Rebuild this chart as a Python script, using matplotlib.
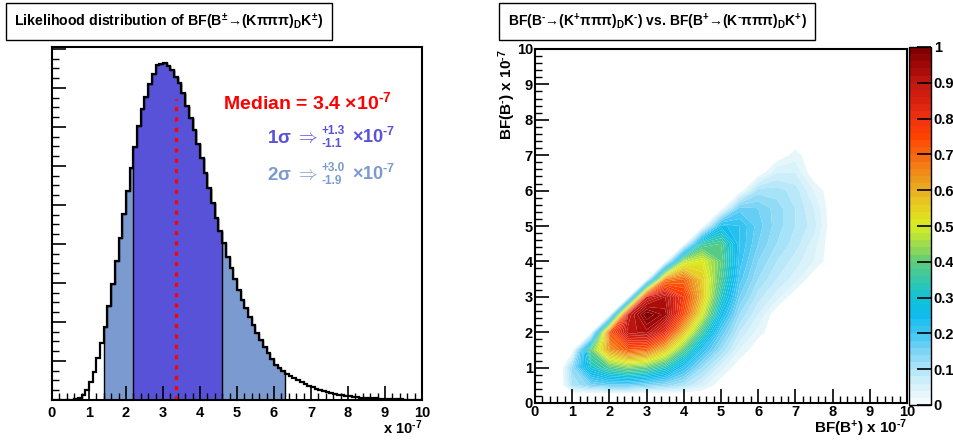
import matplotlib
matplotlib.use('Agg')
import matplotlib.pyplot as plt
import matplotlib.colors as mcolors
from matplotlib.ticker import MultipleLocator, FormatStrFormatter, NullFormatter
import numpy as np

plt.rcParams['font.family'] = ['Liberation Sans', 'DejaVu Sans']
plt.rcParams['font.weight'] = 'bold'
plt.rcParams['axes.labelweight'] = 'bold'
plt.rcParams['mathtext.fontset'] = 'custom'
plt.rcParams['mathtext.rm'] = 'Liberation Sans:bold'
plt.rcParams['mathtext.bf'] = 'Liberation Sans:bold'
plt.rcParams['mathtext.it'] = 'Liberation Sans:bold'
plt.rcParams['mathtext.sf'] = 'Liberation Sans'

# ==========================================
# data
# ==========================================
# 1D likelihood, 100 bins of 0.1 between 0 and 10 (x 10^-7), arbitrary units
bin_edges = np.linspace(0.0, 10.0, 101)
likelihood = [0, 0, 0, 0, 1, 1, 3, 5, 13, 26,
              45, 71, 107, 145, 188, 242, 297, 357, 415, 476,
              536, 596, 649, 703, 746, 778, 809, 836, 858, 862,
              863, 856, 846, 827, 812, 786, 754, 722, 692, 656,
              620, 581, 543, 504, 466, 432, 402, 367, 338, 309,
              282, 256, 235, 212, 191, 171, 154, 137, 120, 104,
              90, 81, 74, 67, 62, 56, 51, 46, 41, 37,
              33, 29, 26, 23, 21, 18, 15, 14, 12, 10,
              9, 8, 7, 6, 5, 5, 4, 4, 3, 3,
              3, 2, 2, 2, 2, 1, 1, 1, 1, 1]
one_sigma = (2.2, 4.6)
two_sigma = (1.4, 6.3)
median_x = 3.35
median_top = 772

# 2D likelihood (normalised to max 1), rows = BF(B-), columns = BF(B+)
bf_plus = [0.7, 1.0, 1.5, 2.0, 2.5, 3.0, 3.5, 4.0, 4.5, 5.0, 5.5, 6.0, 6.5, 7.0, 7.5, 8.0]
bf_minus = [0.25, 0.5, 1.0, 1.5, 2.0, 2.5, 3.0, 3.5, 4.0, 4.5, 5.0, 5.5, 6.0, 6.5, 7.0, 7.5]
lik2d = [
    [0, 0, 0, 0, 0, 0, 0, 0, 0, 0, 0, 0, 0, 0, 0, 0],
    [0, 0.10, 0.15, 0.17, 0.17, 0.15, 0.13, 0.10, 0.05, 0, 0, 0, 0, 0, 0, 0],
    [0, 0.13, 0.30, 0.38, 0.42, 0.40, 0.33, 0.22, 0.12, 0.05, 0, 0, 0, 0, 0, 0],
    [0, 0, 0.40, 0.63, 0.72, 0.70, 0.57, 0.39, 0.22, 0.12, 0.04, 0, 0, 0, 0, 0],
    [0, 0, 0, 0.72, 0.91, 0.93, 0.82, 0.58, 0.36, 0.18, 0.08, 0.03, 0, 0, 0, 0],
    [0, 0, 0, 0, 0.88, 1.00, 0.95, 0.74, 0.50, 0.26, 0.12, 0.06, 0, 0, 0, 0],
    [0, 0, 0, 0, 0, 0.86, 0.92, 0.78, 0.57, 0.33, 0.16, 0.09, 0.05, 0, 0, 0],
    [0, 0, 0, 0, 0, 0, 0.66, 0.70, 0.56, 0.38, 0.19, 0.12, 0.08, 0.05, 0, 0],
    [0, 0, 0, 0, 0, 0, 0, 0.47, 0.51, 0.40, 0.21, 0.14, 0.10, 0.07, 0.04, 0],
    [0, 0, 0, 0, 0, 0, 0, 0, 0.35, 0.38, 0.22, 0.16, 0.12, 0.09, 0.05, 0],
    [0, 0, 0, 0, 0, 0, 0, 0, 0, 0.25, 0.22, 0.17, 0.13, 0.10, 0.07, 0],
    [0, 0, 0, 0, 0, 0, 0, 0, 0, 0, 0.17, 0.16, 0.13, 0.10, 0.06, 0],
    [0, 0, 0, 0, 0, 0, 0, 0, 0, 0, 0, 0.11, 0.11, 0.09, 0.04, 0],
    [0, 0, 0, 0, 0, 0, 0, 0, 0, 0, 0, 0, 0.06, 0.06, 0, 0],
    [0, 0, 0, 0, 0, 0, 0, 0, 0, 0, 0, 0, 0, 0.03, 0, 0],
    [0, 0, 0, 0, 0, 0, 0, 0, 0, 0, 0, 0, 0, 0, 0, 0],
]

# ==========================================
# style
# ==========================================
DARK = '#5852d8'
LIGHT = '#7b9bd0'
TICK_FS = 10.5

root_stops = [(0.00, '#f8fcfe'), (0.05, '#d8f2fb'), (0.10, '#b0e6f9'), (0.15, '#7cd4f5'),
              (0.20, '#3cc4f2'), (0.25, '#10bcee'), (0.30, '#10c2d6'), (0.35, '#38c8a8'),
              (0.40, '#60cc78'), (0.45, '#a2dc4c'), (0.50, '#d8ee22'), (0.55, '#e6d020'),
              (0.60, '#e8b020'), (0.65, '#f08c18'), (0.70, '#f86410'), (0.75, '#ff4400'),
              (0.80, '#f03210'), (0.85, '#d82010'), (0.90, '#c01810'), (0.95, '#a00808'),
              (1.00, '#7a0000')]
root_cmap = mcolors.LinearSegmentedColormap.from_list('root', root_stops)
cb_levels = np.linspace(0, 1, 51)
band_colors = root_cmap((cb_levels[:-1] + cb_levels[1:]) / 2)


def style_axis(ax, pad=4):
    for sp in ax.spines.values():
        sp.set_linewidth(1.5)
    ax.tick_params(which='major', direction='in', length=10, width=1.2,
                   labelsize=TICK_FS, pad=pad)
    ax.tick_params(which='minor', direction='in', length=5, width=1.0)


def bold_ticks(ax):
    plt.setp(ax.get_xticklabels() + ax.get_yticklabels(), fontweight='bold')


fig = plt.figure(figsize=(9.54, 4.41), dpi=100)

# ------------------------------------------
# left: 1D likelihood
# ------------------------------------------
ax1 = fig.add_axes([52 / 954, 41 / 441, 370 / 954, 353 / 441])
edges = np.asarray(bin_edges)
vals = np.asarray(likelihood, dtype=float)

i0, i1 = int(round(two_sigma[0] * 10)), int(round(two_sigma[1] * 10))
ax1.stairs(vals[i0:i1], edges[i0:i1 + 1], fill=True, facecolor=LIGHT,
           edgecolor='black', linewidth=1.0)
j0, j1 = int(round(one_sigma[0] * 10)), int(round(one_sigma[1] * 10))
ax1.stairs(vals[j0:j1], edges[j0:j1 + 1], fill=True, facecolor=DARK,
           edgecolor='black', linewidth=1.0)
ax1.stairs(vals, edges, color='black', linewidth=1.6)
ax1.plot([median_x, median_x], [0, median_top], color='red', lw=2.4,
         dashes=(1.2, 1.9), solid_capstyle='butt')

ax1.set_xlim(0, 10)
ax1.set_ylim(0, 905)
ax1.xaxis.set_major_locator(MultipleLocator(1))
ax1.xaxis.set_minor_locator(MultipleLocator(0.2))
ax1.yaxis.set_major_locator(MultipleLocator(100))
ax1.yaxis.set_minor_locator(MultipleLocator(25))
ax1.yaxis.set_major_formatter(NullFormatter())
style_axis(ax1, pad=4)
bold_ticks(ax1)
ax1.set_xlabel(r"x 10$^{\text{-7}}$", loc='right', fontsize=TICK_FS, labelpad=-1)

# annotations
ax1.text(0.462, 0.824, r"Median = 3.4 $\mathsf{\times}$10$^{\text{-7}}$", transform=ax1.transAxes,
         color='red', fontsize=14, ha='left', va='baseline')
for col, base, lab, up, dn in [(DARK, 0.728, '1', '+1.3', '-1.1'),
                               (LIGHT, 0.623, '2', '+3.0', '-1.9')]:
    ax1.text(0.719, base, lab + r"$\mathsf{\sigma}\;\mathsf{\Rightarrow}$", transform=ax1.transAxes,
             color=col, fontsize=13.5, ha='right', va='baseline')
    ax1.text(0.729, base + 0.033, up, transform=ax1.transAxes, color=col,
             fontsize=8.5, ha='left', va='center')
    ax1.text(0.729, base - 0.003, dn, transform=ax1.transAxes, color=col,
             fontsize=8.5, ha='left', va='center')
    ax1.text(0.812, base, r"$\mathsf{\times}$10$^{\text{-7}}$", transform=ax1.transAxes,
             color=col, fontsize=13, ha='left', va='baseline')

# ------------------------------------------
# right: 2D likelihood
# ------------------------------------------
ax2 = fig.add_axes([535 / 954, 38 / 441, 372 / 954, 354 / 441])
ax2.contourf(bf_plus, bf_minus, np.asarray(lik2d), levels=cb_levels[1:],
             colors=band_colors[1:], antialiased=True)
ax2.set_xlim(0, 10)
ax2.set_ylim(0, 10)
for axis in (ax2.xaxis, ax2.yaxis):
    axis.set_major_locator(MultipleLocator(1))
    axis.set_minor_locator(MultipleLocator(0.2))
style_axis(ax2, pad=1.5)
bold_ticks(ax2)
ax2.set_xlabel(r"BF(B$^{+}$) x 10$^{\text{-7}}$", loc='right', fontsize=11, labelpad=-1)
ax2.set_ylabel(r"BF(B$^{\text{-}}$) x 10$^{\text{-7}}$", loc='top', fontsize=11, labelpad=-1)

cax = fig.add_axes([909 / 954, 36 / 441, 22 / 954, 358 / 441])
cb_cmap = mcolors.ListedColormap(band_colors)
cb_norm = mcolors.BoundaryNorm(cb_levels, cb_cmap.N)
cb = fig.colorbar(matplotlib.cm.ScalarMappable(norm=cb_norm, cmap=cb_cmap), cax=cax,
                  ticks=np.linspace(0, 1, 11), spacing='proportional')
cb.outline.set_linewidth(1.0)
cb.ax.yaxis.set_major_formatter(FormatStrFormatter('%g'))
cb.ax.tick_params(direction='in', length=10, width=1.2, labelsize=TICK_FS, pad=2)
cb.ax.minorticks_off()
plt.setp(cb.ax.get_yticklabels(), fontweight='bold')

# title boxes
box = dict(boxstyle='square,pad=0.62', facecolor='white', edgecolor='black', linewidth=1.0)
fig.text(169 / 954, 1 - 21.5 / 441,
         r"Likelihood distribution of BF(B$^{\pm}$→(Kπππ)$_{D}$K$^{\pm}$)",
         fontsize=10.2, ha='center', va='center', bbox=box)
fig.text(657 / 954, 1 - 21.5 / 441,
         r"BF(B$^{\text{-}}$→(K$^{+}$πππ)$_{D}$K$^{\text{-}}$) vs. BF(B$^{+}$→(K$^{\text{-}}$πππ)$_{D}$K$^{+}$)",
         fontsize=10, ha='center', va='center', bbox=box)

fig.savefig('out.png', dpi=100)
